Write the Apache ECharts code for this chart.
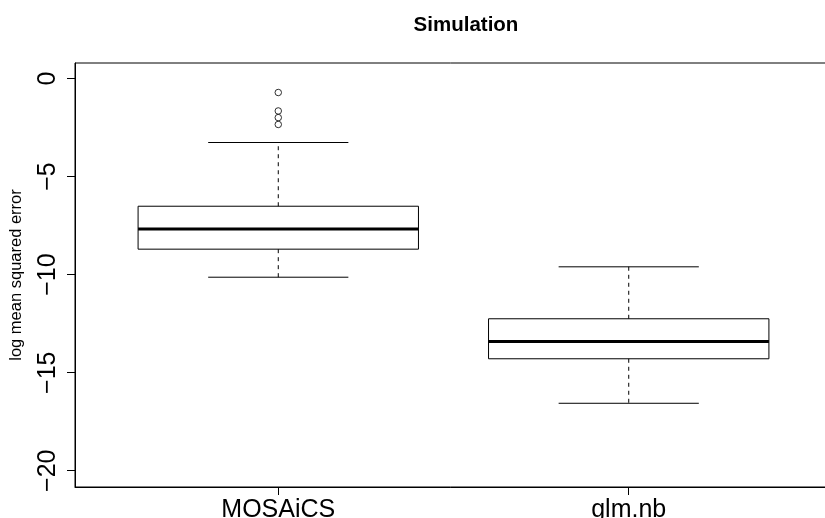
<!DOCTYPE html>
<html>
<head>
<meta charset="utf-8">
<script src="https://cdn.jsdelivr.net/npm/echarts@6/dist/echarts.min.js"></script>
<style>
html,body{margin:0;padding:0;background:#fff;}
#chart{width:825px;height:518px;}
</style>
</head>
<body>
<div id="chart"></div>
<script>
// ---- data ----
const categories = ['MOSAiCS', 'glm.nb'];
const positions = [1, 2];
const whiskerLow = [-10.13, -16.56];
const q1 = [-8.70, -14.29];
const median = [-7.67, -13.41];
const q3 = [-6.51, -12.25];
const whiskerHigh = [-3.26, -9.60];
const outliersMOSAiCS = [-0.71, -1.65, -1.99, -2.34];
const yTicks = [0, -5, -10, -15, -20];

const boxData = positions.map((p, i) => [p, whiskerLow[i], q1[i], median[i], q3[i], whiskerHigh[i]]);
const outlierData = outliersMOSAiCS.map(v => [1, v]);

const FONT = 'Liberation Sans, Arial, Helvetica, sans-serif';
const chart = echarts.init(document.getElementById('chart'), null, {renderer: 'canvas'});

function renderBox(params, api) {
  const x = api.value(0);
  const lo = api.coord([x, api.value(1)]);
  const b1 = api.coord([x, api.value(2)]);
  const md = api.coord([x, api.value(3)]);
  const b3 = api.coord([x, api.value(4)]);
  const hi = api.coord([x, api.value(5)]);
  const boxW = api.size([0.8, 0])[0];
  const stapleW = api.size([0.4, 0])[0];
  const cx = lo[0];
  const lineStyle = {stroke: '#000', lineWidth: 1, fill: null};
  const dashStyle = {stroke: '#000', lineWidth: 1, lineDash: [4, 4], fill: null};
  return {
    type: 'group',
    children: [
      {type: 'line', shape: {x1: cx, y1: b3[1], x2: cx, y2: hi[1]}, style: dashStyle},
      {type: 'line', shape: {x1: cx, y1: b1[1], x2: cx, y2: lo[1]}, style: dashStyle},
      {type: 'line', shape: {x1: cx - stapleW / 2, y1: hi[1], x2: cx + stapleW / 2, y2: hi[1]}, style: lineStyle},
      {type: 'line', shape: {x1: cx - stapleW / 2, y1: lo[1], x2: cx + stapleW / 2, y2: lo[1]}, style: lineStyle},
      {type: 'rect', shape: {x: cx - boxW / 2, y: b3[1], width: boxW, height: b1[1] - b3[1]}, style: {stroke: '#000', lineWidth: 1, fill: 'rgba(0,0,0,0)'}},
      {type: 'line', shape: {x1: cx - boxW / 2, y1: md[1], x2: cx + boxW / 2, y2: md[1]}, style: {stroke: '#000', lineWidth: 3}}
    ]
  };
}

const option = {
  backgroundColor: '#fff',
  animation: false,
  title: {
    text: 'Simulation',
    left: 461,
    textAlign: 'center',
    top: 10,
    textStyle: {fontFamily: FONT, fontSize: 20.5, fontWeight: 'bold', color: '#000'}
  },
  grid: {
    left: 75, top: 63, width: 757, height: 424,
    containLabel: false,
    outerBoundsMode: 'none',
    show: true, borderColor: '#000', borderWidth: 1, backgroundColor: 'rgba(0,0,0,0)'
  },
  xAxis: {
    type: 'value',
    min: 0.42, max: 2.58,
    splitLine: {show: false},
    axisLine: {show: true, onZero: false, lineStyle: {color: '#000', width: 1}},
    axisTick: {show: true, customValues: positions, length: 8, lineStyle: {color: '#000'}},
    axisLabel: {
      customValues: positions,
      formatter: v => categories[positions.indexOf(Math.round(v))] || '',
      fontFamily: FONT, fontSize: 25, color: '#000', margin: 11
    }
  },
  yAxis: {
    type: 'value',
    min: -20.83, max: 0.795,
    splitLine: {show: false},
    axisLine: {show: true, onZero: false, lineStyle: {color: '#000', width: 1}},
    axisTick: {show: true, customValues: yTicks, length: 8, lineStyle: {color: '#000'}},
    axisLabel: {
      customValues: yTicks,
      rotate: 90,
      formatter: v => (v < 0 ? '\u2212' + (-v) : String(v)),
      fontFamily: FONT, fontSize: 25, color: '#000', margin: 14
    },
    name: 'log mean squared error',
    nameLocation: 'middle',
    nameRotate: 90,
    nameGap: 50,
    nameTextStyle: {fontFamily: FONT, fontSize: 16.5, color: '#000'}
  },
  series: [
    {
      type: 'custom',
      renderItem: renderBox,
      data: boxData,
      encode: {x: 0, y: [1, 2, 3, 4, 5]},
      z: 2
    },
    {
      type: 'scatter',
      data: outlierData,
      symbol: 'circle',
      symbolSize: 6.5,
      itemStyle: {color: 'rgba(255,255,255,0)', borderColor: '#000', borderWidth: 1},
      z: 3
    }
  ]
};
chart.setOption(option);
</script>
</body>
</html>
